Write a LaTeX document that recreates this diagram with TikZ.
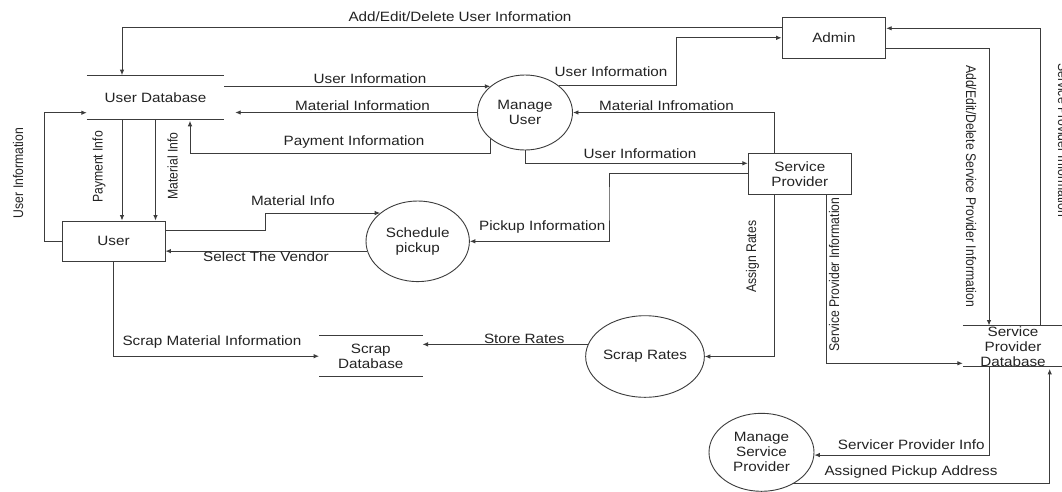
\documentclass[tikz,border=0pt]{standalone}
\usepackage{fontspec}
\newfontfamily\hfont{Liberation Sans}[FakeStretch=1.13]
\newfontfamily\vfont{Liberation Sans}[FakeStretch=0.87]
\newcommand\hfsz{\hfont\fontsize{13.5}{15}\selectfont}
\newcommand\vfsz{\vfont\fontsize{14}{16}\selectfont}
\usetikzlibrary{shapes.geometric,arrows.meta}
\definecolor{ln}{RGB}{60,60,60}
\definecolor{tx}{RGB}{35,35,35}
\begin{document}
\begin{tikzpicture}[x=1pt,y=-1pt,
  box/.style={draw=ln, line width=0.9pt, rectangle, minimum width=103pt, minimum height=41pt, inner sep=0pt, font=\hfsz, text=tx, align=center},
  proc/.style={draw=ln, line width=0.9pt, ellipse, inner sep=0pt, font=\hfsz, text=tx, align=center},
  store/.style={rectangle, inner xsep=0pt, inner ysep=-2pt, font=\hfsz, text=tx, align=center},
  wire/.style={draw=ln, line width=0.9pt},
  arr/.style={draw=ln, line width=0.9pt, -{Latex[length=5.5pt,width=4.5pt]}},
  lbl/.style={font=\hfsz, text=tx, inner sep=0pt},
  vlbl/.style={font=\vfsz, text=tx, inner sep=0pt},
  vup/.style={vlbl, rotate=90},
  vdown/.style={vlbl, rotate=-90}]
\path[fill=white, use as bounding box] (0,0) rectangle (1062,491);

% nodes
\node[store, minimum width=137pt, minimum height=43.7pt] (udb) at (155.5,97.2) {User Database};
\node[box, minimum width=103pt, minimum height=40pt] (user) at (113.5,241) {User};
\node[proc, minimum width=95pt, minimum height=75pt] (mu) at (525,112.5) {Manage\\User};
\node[proc, minimum width=103.4pt, minimum height=80.6pt] (sched) at (417.7,241.3) {Schedule\\pickup};
\node[box, minimum width=103.7pt, minimum height=41pt] (admin) at (833.9,37.8) {Admin};
\node[box] (sp) at (799.8,173.8) {Service\\Provider};
\node[proc, minimum width=103.4pt, minimum height=81.6pt] (srates) at (645,356.5) {Scrap Rates};
\node[store, minimum width=103pt, minimum height=41pt] (sdb) at (370.8,356.2) {Scrap\\Database};
\node[store, minimum width=100pt, minimum height=41pt] (spdb) at (1013,346.2) {Service\\Provider\\Database};
\node[proc, minimum width=105pt, minimum height=78pt] (msp) at (761.5,452.3) {Manage\\Service\\Provider};

% data store lines
\draw[wire] (udb.north west) -- (udb.north east);
\draw[wire] (udb.south west) -- (udb.south east);
\draw[wire] (sdb.north west) -- (sdb.north east);
\draw[wire] (sdb.south west) -- (sdb.south east);
\draw[wire] (spdb.north west) -- ([xshift=6pt]spdb.north east);
\draw[wire] (spdb.south west) -- ([xshift=6pt]spdb.south east);

% connectors
\draw[arr] (admin.west |- 0,27.3) -| ([xshift=-33.5pt]udb.north);
\draw[arr] (mu.143 -| udb.east) -- (mu.143);
\draw[arr] (mu.west) -- ([xshift=11pt]udb.east |- mu.west);
\draw[arr] (mu.217) |- (190,153.3) -- ([xshift=34.5pt,yshift=-1.5pt]udb.south);
\draw[arr] ([xshift=-33.5pt]udb.south) -- ([xshift=-33.5pt]udb.south |- user.north);
\draw[arr] (udb.south) -- (udb.south |- user.north);
\draw[arr] (user.west) -| (44.3,112.7) -- (udb.west |- 0,112.7);
\draw[arr] (user.east |- 0,230) -| (265.7,220) |- (sched.143);
\draw[arr] (sched.191) -- (user.east |- sched.191);
\draw[arr] (mu.38) -| ([xshift=-105.3pt]admin.west) -- (admin.west);
\draw[arr] ([xshift=-25.8pt]sp.north) |- (mu.east);
\draw[arr] (mu.south) |- ([yshift=10.5pt]sp.west);
\draw[arr] (sp.west) -| (609,200) |- (sched.east);
\draw[arr] ([xshift=-25.8pt]sp.south) |- (srates.east);
\draw[arr] ([xshift=26.5pt]sp.south) |- ([yshift=-17.1pt]spdb.west);
\draw[arr] ([yshift=-10.5pt]admin.east) -| ([xshift=-24pt]spdb.north);
\draw[arr] ([xshift=27pt]spdb.north) |- ([yshift=9.5pt]admin.east);
\draw[arr] ([xshift=-24pt]spdb.south) |- (msp.357);
\draw[arr] (msp.315) -| ([xshift=36.7pt,yshift=-2pt]spdb.south);
\draw[arr] (srates.168) -- (sdb.east |- srates.168);
\draw[arr] (user.south) |- (sdb.west);

% labels
\node[lbl] (t1) at (460,16.7) {Add/Edit/Delete User Information};
\node[lbl] (t2) at (370,78.3) {User Information};
\node[lbl] (t3) at (362.5,105.3) {Material Information};
\node[lbl] (t4) at (354,141.7) {Payment Information};
\node[vup] (t5) at (99,167) {Payment Info};
\node[vup] (t6) at (172.7,166) {Material Info};
\node[vup] (t7) at (18,173) {User Information};
\node[lbl] (t8) at (293,200.7) {Material Info};
\node[lbl] (t9) at (266,256.5) {Select The Vendor};
\node[lbl] (t10) at (611,71.7) {User Information};
\node[lbl] (t11) at (666.5,105.3) {Material Infromation};
\node[lbl] (t12) at (640,153.3) {User Information};
\node[lbl] (t13) at (542.3,227.3) {Pickup Information};
\node[vup] (t14) at (752.5,256.7) {Assign Rates};
\node[vup] (t15) at (834,274.5) {Service Provider Information};
\node[vdown] (t16) at (971,186) {Add/Edit/Delete Service Provider Information};
\node[vdown] (t17) at (1063,140) {Service Provider Information};
\node[lbl] (t18) at (911.3,444.3) {Servicer Provider Info};
\node[lbl] (t19) at (911,471.7) {Assigned Pickup Address};
\node[lbl] (t20) at (524.3,339) {Store Rates};
\node[lbl] (t21) at (212,342.3) {Scrap Material Information};
\end{tikzpicture}
\end{document}
